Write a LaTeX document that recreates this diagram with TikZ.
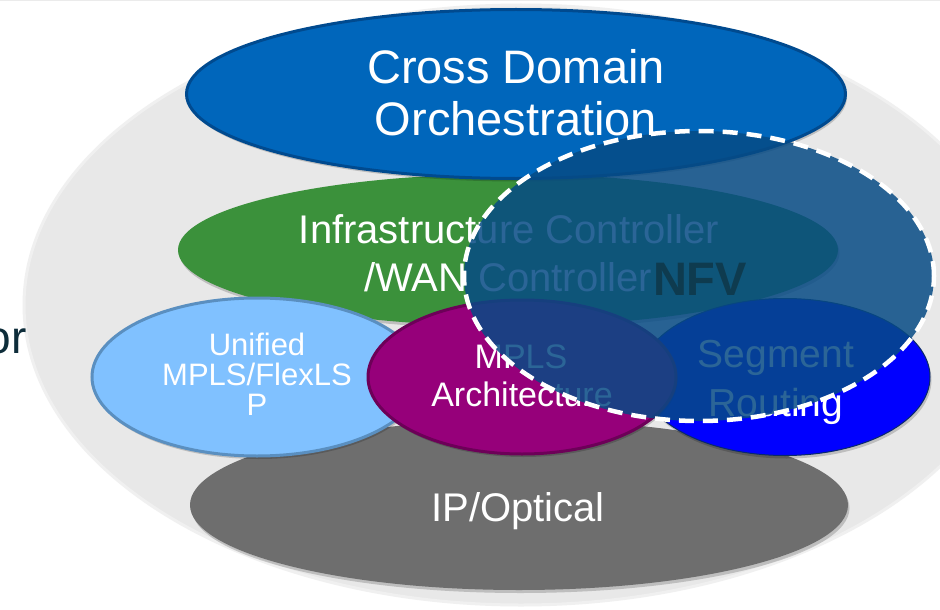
\documentclass[tikz,border=0pt]{standalone}
\usepackage{fontspec}
\setmainfont{Liberation Sans}
\usetikzlibrary{shapes.geometric,shadows}
\definecolor{bgc}{HTML}{E8E8E8}
\definecolor{cdoc}{HTML}{0066BB}
\definecolor{cdob}{HTML}{004A8F}
\definecolor{grc}{HTML}{3B913B}
\definecolor{lbc}{HTML}{80C1FF}
\definecolor{lbb}{HTML}{5A8FC0}
\definecolor{mgc}{HTML}{96007A}
\definecolor{mgb}{HTML}{6D0058}
\definecolor{src}{HTML}{0000FF}
\definecolor{srb}{HTML}{0A2A6A}
\definecolor{ipc}{HTML}{6E6E6E}
\definecolor{nfvc}{HTML}{074B85}
\definecolor{nfvt}{HTML}{0E3B4F}
\definecolor{ortxt}{HTML}{0E2D3A}
\begin{document}
\begin{tikzpicture}[x=1pt,y=-1pt,
  oval/.style={ellipse, inner sep=0pt, outer sep=0pt},
  shad/.style={drop shadow={fill=black, opacity=0.18, shadow xshift=1.5pt, shadow yshift=-3pt}},
  lbl/.style={text=white, inner sep=0pt, anchor=base},
]
\useasboundingbox (0,0) rectangle (940,610);
\clip (0,0) rectangle (940,610);
\fill[white] (0,0) rectangle (940,610);
\draw[line width=2pt, color=black!8] (0,0.5) -- (940,0.5);
% background
\node[oval, fill=bgc, draw=black!6, line width=3pt, minimum width=994pt, minimum height=600pt] (bg) at (521,305) {};
% layers
\node[oval, fill=grc, minimum width=660pt, minimum height=152pt, shad] (infra) at (508,250) {};
\node[oval, fill=cdoc, draw=cdob, line width=3pt, minimum width=659pt, minimum height=169pt, shad] (cdo) at (516,94) {};
\node[oval, fill=ipc, minimum width=658pt, minimum height=170pt, shad] (ipo) at (519,505) {};
\node[oval, fill=lbc, draw=lbb, line width=3pt, minimum width=330pt, minimum height=158pt, shad] (umpls) at (257,377) {};
\node[oval, fill=src, draw=srb, line width=1pt, minimum width=290pt, minimum height=157pt, shad] (sr) at (785,377) {};
\node[oval, fill=mgc, draw=mgb, line width=3pt, minimum width=308pt, minimum height=154pt, shad] (mpls) at (522,377) {};
% texts under NFV
\node[lbl, font=\fontsize{40}{48}\selectfont] (infra1) at (509,243) {Infrastructure Controller};
\node[lbl, font=\fontsize{40}{48}\selectfont] (infra2) at (508,291) {/WAN Controller};
\node[lbl, font=\fontsize{40}{48}\selectfont] (ipo1) at (518,521) {IP/Optical};
\node[lbl, font=\fontsize{31}{30}\selectfont] (um1) at (257,355) {Unified};
\node[lbl, font=\fontsize{31}{30}\selectfont] (um2) at (257,385) {MPLS/FlexLS};
\node[lbl, font=\fontsize{31}{30}\selectfont] (um3) at (257,415) {P};
\node[lbl, font=\fontsize{34}{38}\selectfont] (mp1) at (521,368) {MPLS};
\node[lbl, font=\fontsize{34}{38}\selectfont] (mp2) at (522,406) {Architecture};
\node[lbl, font=\fontsize{39}{48}\selectfont] (sr1) at (776,367) {Segment};
\node[lbl, font=\fontsize{39}{48}\selectfont] (sr2) at (776,416) {Routing};
% NFV overlay
\node[oval, fill=nfvc, fill opacity=0.85, draw=white, line width=4.5pt,
  dash pattern=on 15pt off 9pt, minimum width=470pt, minimum height=290pt] (nfv) at (699,276) {};
\node[inner sep=0pt, anchor=base, text=nfvt, font=\fontsize{47}{50}\selectfont\bfseries] (nfvlbl) at (700,295) {NFV};
% top texts
\node[lbl, font=\fontsize{47}{51}\selectfont] (cdo1) at (516,84) {Cross Domain};
\node[lbl, font=\fontsize{47}{51}\selectfont] (cdo2) at (516,135) {Orchestration};
\node[inner sep=0pt, anchor=base east, text=ortxt, font=\fontsize{46}{50}\selectfont] (ortext) at (27,353) {or};
\end{tikzpicture}
\end{document}
